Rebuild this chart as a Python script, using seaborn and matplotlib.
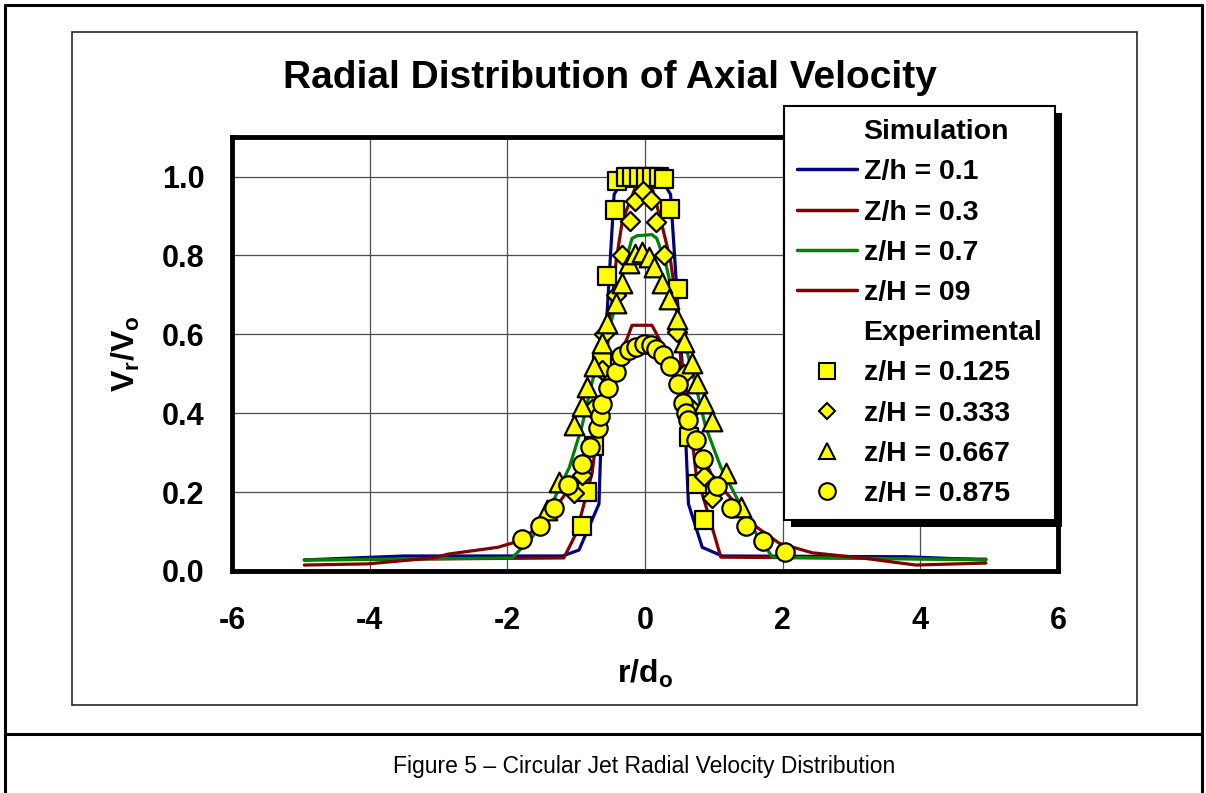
import numpy as np
import pandas as pd
import matplotlib
matplotlib.use("Agg")
import matplotlib.pyplot as plt
import seaborn as sns
from matplotlib.lines import Line2D
from matplotlib.patches import Rectangle
from matplotlib.transforms import IdentityTransform

# simulation curves
sim_labels = ['Z/h = 0.1', 'Z/h = 0.3', 'z/H = 0.7', 'z/H = 09']
sim_colors = ['#000080', '#800000', '#008000', '#800000']

b_x = [-4.95, -3.5, -1.2, -0.96, -0.67, -0.61, -0.55, -0.45, -0.38, 0.30, 0.37, 0.48, 0.55, 0.63, 0.83, 1.12, 3.8, 4.95]
b_y = [0.028, 0.038, 0.038, 0.053, 0.17, 0.50, 0.66, 0.955, 0.975, 0.975, 0.955, 0.66, 0.50, 0.17, 0.06, 0.038, 0.036, 0.028]

r3_x = [-4.95, -1.18, -1.0, -0.91, -0.77, -0.57, -0.42, -0.33, -0.14, 0.10, 0.23, 0.37, 0.45, 0.52, 0.60, 0.74, 0.93, 1.10, 4.95]
r3_y = [0.028, 0.033, 0.096, 0.155, 0.248, 0.526, 0.787, 0.888, 0.973, 0.973, 0.888, 0.787, 0.686, 0.53, 0.458, 0.248, 0.137, 0.035, 0.03]

g_x = [-4.95, -1.93, -1.64, -1.35, -1.1, -0.92, -0.74, -0.48, -0.28, -0.19, -0.12, 0.10, 0.17, 0.30, 0.48, 0.68, 0.88, 1.10, 1.37, 1.61, 1.85, 4.95]
g_y = [0.028, 0.033, 0.086, 0.172, 0.263, 0.365, 0.50, 0.64, 0.787, 0.843, 0.85, 0.853, 0.843, 0.78, 0.64, 0.51, 0.365, 0.263, 0.172, 0.096, 0.035, 0.028]

r9_x = [-4.95, -4.03, -3.08, -2.85, -2.14, -1.79, -1.44, -1.2, -0.96, -0.74, -0.62, -0.5, -0.26, -0.19, 0.10, 0.20, 0.38, 0.57, 0.74, 0.98, 1.27, 1.55, 1.95, 2.43, 3.15, 3.93, 4.95]
r9_y = [0.015, 0.018, 0.033, 0.043, 0.06, 0.078, 0.13, 0.185, 0.248, 0.33, 0.425, 0.50, 0.59, 0.623, 0.623, 0.59, 0.53, 0.425, 0.332, 0.238, 0.18, 0.12, 0.07, 0.046, 0.033, 0.015, 0.02]

# experimental points
exp_labels = ['z/H = 0.125', 'z/H = 0.333', 'z/H = 0.667', 'z/H = 0.875']
exp_markers = ['s', 'D', '^', 'o']

sq_x = [-0.92, -0.84, -0.74, -0.63, -0.55, -0.43, -0.41, -0.28, -0.19, -0.09, 0.01, 0.10, 0.20, 0.28, 0.36, 0.48, 0.64, 0.76, 0.86]
sq_y = [0.114, 0.20, 0.316, 0.53, 0.747, 0.916, 0.988, 1.0, 1.0, 1.0, 1.0, 1.0, 1.0, 0.995, 0.919, 0.716, 0.34, 0.22, 0.13]

di_x = [-1.03, -0.92, -0.77, -0.63, -0.60, -0.42, -0.33, -0.22, -0.14, -0.03, 0.08, 0.16, 0.28, 0.47, 0.57, 0.68, 0.86, 0.97]
di_y = [0.197, 0.243, 0.41, 0.51, 0.60, 0.70, 0.80, 0.887, 0.937, 0.963, 0.94, 0.884, 0.80, 0.605, 0.50, 0.41, 0.24, 0.185]

tr_x = [-1.42, -1.25, -1.03, -0.92, -0.84, -0.74, -0.62, -0.55, -0.42, -0.33, -0.23, -0.14, -0.04,
        0.06, 0.13, 0.25, 0.35, 0.47, 0.57, 0.68, 0.76, 0.86, 0.97, 1.18, 1.40]
tr_y = [0.154, 0.225, 0.37, 0.418, 0.466, 0.52, 0.577, 0.63, 0.68, 0.73, 0.78, 0.805, 0.808,
        0.795, 0.77, 0.73, 0.69, 0.64, 0.58, 0.527, 0.476, 0.425, 0.38, 0.248, 0.162]

ci_x = [-1.79, -1.53, -1.32, -1.12, -0.92, -0.80, -0.68, -0.65, -0.63, -0.54, -0.42, -0.35, -0.23, -0.13, -0.01,
        0.09, 0.16, 0.26, 0.36, 0.48, 0.55, 0.59, 0.62, 0.74, 0.84, 1.05, 1.25, 1.46, 1.71, 2.03]
ci_y = [0.08, 0.114, 0.16, 0.218, 0.27, 0.314, 0.362, 0.392, 0.423, 0.463, 0.504, 0.544, 0.56, 0.567, 0.575,
        0.572, 0.564, 0.547, 0.52, 0.475, 0.425, 0.40, 0.382, 0.332, 0.283, 0.215, 0.16, 0.114, 0.076, 0.048]

sim_data = [(b_x, b_y), (r3_x, r3_y), (g_x, g_y), (r9_x, r9_y)]
exp_data = [(sq_x, sq_y), (di_x, di_y), (tr_x, tr_y), (ci_x, ci_y)]

sns.set_style("white")
plt.rcParams['font.family'] = ['Liberation Sans', 'DejaVu Sans']
plt.rcParams['mathtext.fontset'] = 'custom'
plt.rcParams['mathtext.rm'] = 'Liberation Sans'
plt.rcParams['mathtext.bf'] = 'Liberation Sans:bold'
plt.rcParams['axes.unicode_minus'] = False
for k in ['text.color', 'axes.labelcolor', 'xtick.color', 'ytick.color']:
    plt.rcParams[k] = 'black'

fig = plt.figure(figsize=(12.06, 7.93), dpi=100)
ax = fig.add_axes([0.1924, 0.28, 0.685, 0.547])

for (xs, ys), lab, col in zip(sim_data, sim_labels, sim_colors):
    df = pd.DataFrame({'x': xs, 'y': ys})
    sns.lineplot(data=df, x='x', y='y', color=col, lw=2.3, sort=False,
                 estimator=None, ax=ax, zorder=2)

msizes = {'s': 150, 'D': 95, '^': 200, 'o': 175}
for (xs, ys), lab, m in zip(exp_data, exp_labels, exp_markers):
    df = pd.DataFrame({'x': xs, 'y': ys})
    sns.scatterplot(data=df, x='x', y='y', marker=m, s=msizes[m], color='#ffff00',
                    edgecolor='black', linewidth=1.6, ax=ax, zorder=3)

ax.set_xlim(-6, 6)
ax.set_ylim(0, 1.1)
ax.set_xticks([-6, -4, -2, 0, 2, 4, 6])
ax.set_yticks([0.0, 0.2, 0.4, 0.6, 0.8, 1.0])
ax.set_yticklabels(['0.0', '0.2', '0.4', '0.6', '0.8', '1.0'])
ax.grid(True, color='0.3', lw=0.9)
ax.set_axisbelow(True)
for s in ax.spines.values():
    s.set_color('black')
    s.set_linewidth(3.5)
ax.tick_params(direction='in', length=6, width=2.5, labelsize=22, pad=20)
ax.tick_params(axis='x', pad=25)
for t in ax.get_xticklabels() + ax.get_yticklabels():
    t.set_fontweight('bold')

ax.set_xlabel(r'$\mathbf{r/d_o}$', fontsize=23, labelpad=16)
ax.set_ylabel(r'$\mathbf{V_r/V_o}$', fontsize=23, labelpad=14)

# legend with section headers
blank = Line2D([], [], linestyle='none', marker=None)
handles = [blank]
labels = ['Simulation']
for lab, col in zip(sim_labels, sim_colors):
    handles.append(Line2D([], [], color=col, lw=2.5))
    labels.append(lab)
handles.append(blank)
labels.append('Experimental')
for lab, m in zip(exp_labels, exp_markers):
    ms = {'s': 11, 'D': 8, '^': 11, 'o': 12}[m]
    handles.append(Line2D([], [], linestyle='none', marker=m, markersize=ms,
                          markerfacecolor='#ffff00', markeredgecolor='black', markeredgewidth=1.5))
    labels.append(lab)

leg = ax.legend(handles, labels, loc='upper left', bbox_to_anchor=(0.650, 0.866),
                bbox_transform=fig.transFigure, prop={'weight': 'bold', 'size': 20.5},
                frameon=True, fancybox=False, framealpha=1, edgecolor='black',
                handlelength=2.1, handletextpad=0.25, labelspacing=0.5, borderpad=0.45,
                borderaxespad=0)
leg.get_frame().set_linewidth(1.5)
leg.set_zorder(10)

fig.canvas.draw()
bb = leg.get_window_extent()
shadow = Rectangle((bb.x0 + 7, bb.y0 - 7), bb.width, bb.height, facecolor='black',
                   edgecolor='none', transform=IdentityTransform(), clip_on=False, zorder=9)
ax.add_patch(shadow)

fig.text(0.506, 0.902, 'Radial Distribution of Axial Velocity', ha='center', va='center',
         fontsize=28, fontweight='bold')
fig.text(0.534, 0.033, 'Figure 5 \u2013 Circular Jet Radial Velocity Distribution',
         ha='center', va='center', fontsize=16.5)

# chart frame and page borders
fig.add_artist(Rectangle((72 / 1206, 1 - 705 / 793), (1137 - 72) / 1206, (705 - 32) / 793,
                         fill=False, edgecolor='0.15', lw=1.2, transform=fig.transFigure))
fig.add_artist(Line2D([5 / 1206, 5 / 1206], [0, 1 - 5 / 793], color='black', lw=2.2))
fig.add_artist(Line2D([1202 / 1206, 1202 / 1206], [0, 1 - 5 / 793], color='black', lw=2.2))
fig.add_artist(Line2D([5 / 1206, 1202 / 1206], [1 - 5 / 793, 1 - 5 / 793], color='black', lw=2.2))
fig.add_artist(Line2D([5 / 1206, 1202 / 1206], [1 - 734 / 793, 1 - 734 / 793], color='black', lw=2.2))

fig.savefig('out.png', dpi=100)
